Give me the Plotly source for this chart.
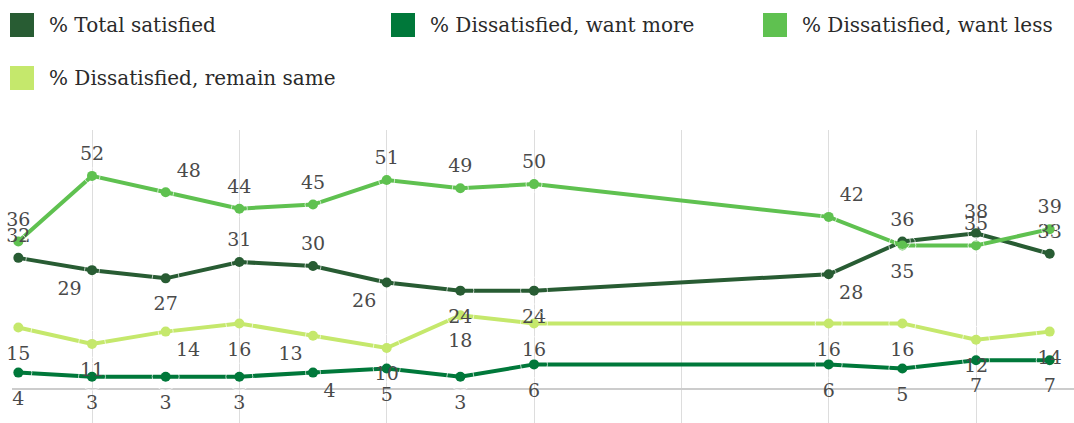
import plotly.graph_objects as go

years = [2001, 2002, 2003, 2004, 2005, 2006, 2007, 2008, 2012, 2013, 2014, 2015]
total_satisfied = [32, 29, 27, 31, 30, 26, 24, 24, 28, 36, 38, 33]
want_more = [4, 3, 3, 3, 4, 5, 3, 6, 6, 5, 7, 7]
want_less = [36, 52, 48, 44, 45, 51, 49, 50, 42, 35, 35, 39]
remain_same = [15, 11, 14, 16, 13, 10, 18, 16, 16, 16, 12, 14]

names = ["% Total satisfied", "% Dissatisfied, want more",
         "% Dissatisfied, want less", "% Dissatisfied, remain same"]
colors = ["#285C33", "#00783A", "#5FC150", "#C5E86C"]

pos_total = ["top center", "bottom left", "bottom center", "top center", "top center",
             "bottom left", "bottom center", "bottom center", "bottom right",
             "top center", "top center", "top center"]
pos_more = ["bottom center"] * 4 + ["bottom right"] + ["bottom center"] * 7
pos_less = ["top center", "top center", "top right", "top center", "top center",
            "top center", "top center", "top center", "top right",
            "bottom center", "top center", "top center"]
pos_same = ["bottom center", "bottom center", "bottom right", "bottom center",
            "bottom left", "bottom center", "bottom center", "bottom center",
            "bottom center", "bottom center", "bottom center", "bottom center"]

FONT = "DejaVu Serif"
series = [(total_satisfied, pos_total), (want_more, pos_more),
          (want_less, pos_less), (remain_same, pos_same)]

fig = go.Figure()
for (vals, pos), name, col in zip(series, names, colors):
    fig.add_trace(go.Scatter(
        x=years, y=vals, name=name, mode="lines+markers",
        line=dict(color=col, width=4), marker=dict(color=col, size=10),
        showlegend=False, hoverinfo="skip"))


def label_size(p):
    if p.startswith("top"):
        return 16
    if p == "bottom center":
        return 27
    return 15


# value labels (transparent markers set the label distance from the point)
for (vals, pos), name in zip(series, names):
    fig.add_trace(go.Scatter(
        x=years, y=vals, name=name + " labels", mode="markers+text",
        marker=dict(color="rgba(0,0,0,0)", size=[label_size(p) for p in pos]),
        text=[str(v) for v in vals], textposition=pos,
        textfont=dict(family=FONT, size=19, color="#4a4a4a"),
        cliponaxis=False, showlegend=False, hoverinfo="skip"))

W, H = 1074, 423
fig.update_layout(
    width=W, height=H, margin=dict(l=0, r=0, t=0, b=0),
    paper_bgcolor="white", plot_bgcolor="white",
    font=dict(family=FONT, size=19, color="#222222"),
    xaxis=dict(domain=[12 / W, 1], range=[2000.914, 2015.33], showticklabels=False,
               showgrid=True, gridcolor="#DDDDDD", gridwidth=1, tick0=2002, dtick=2,
               zeroline=False, showline=False, ticks=""),
    yaxis=dict(domain=[0, 293 / H], range=[-8.3, 63.2], showticklabels=False,
               showgrid=False, zeroline=True, zerolinecolor="#CCCCCC", zerolinewidth=2,
               showline=False, ticks=""),
)

# legend drawn manually (square swatches)
legend_pos = [(10, 25), (391, 25), (763, 25), (10, 78)]
shapes = []
annotations = []
for (px, py), name, col in zip(legend_pos, names, colors):
    shapes.append(dict(type="rect", xref="paper", yref="paper",
                       x0=px / W, x1=(px + 24) / W,
                       y0=1 - (py + 12) / H, y1=1 - (py - 12) / H,
                       fillcolor=col, line=dict(width=0)))
    annotations.append(dict(xref="paper", yref="paper", x=(px + 37) / W, y=1 - py / H,
                            text=name, showarrow=False, xanchor="left", yanchor="middle",
                            font=dict(family=FONT, size=20, color="#2a2a2a")))
fig.update_layout(shapes=shapes, annotations=annotations)

fig.write_html("out.html")
